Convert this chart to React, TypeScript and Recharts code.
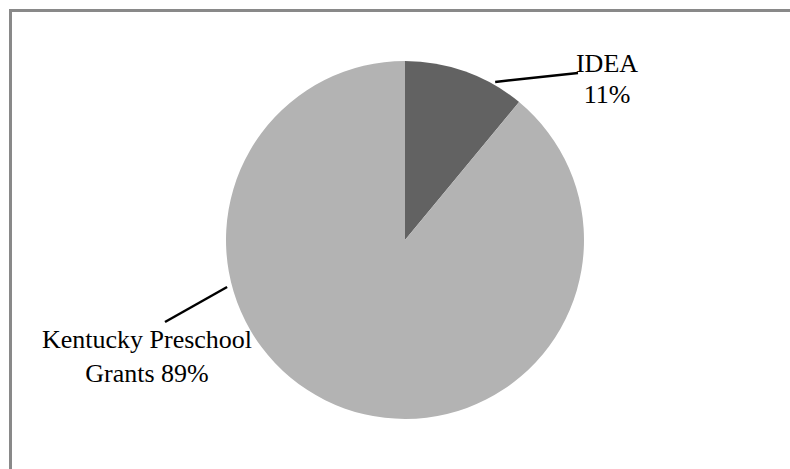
import React from "react";
import { PieChart, Pie, Cell } from "recharts";

const names = ["IDEA", "Kentucky Preschool Grants"];
const shares = [11, 89];
const labelLines = [["IDEA", "11%"], ["Kentucky Preschool", "Grants 89%"]];
const colors = ["#626262", "#b3b3b3"];

const data = names.map((name, i) => ({ name, value: shares[i] }));

// label layout relative to the pie centre (leader start angle in degrees clockwise from top)
const labelLayout = [
  { startDeg: 29.7, startR: 182, end: [173, -167], text: [202, -168], lineGap: 31 },
  { startDeg: 255.2, startR: 184, end: [-240, 82], text: [-258, 108], lineGap: 34 },
];

const FONT = "'Liberation Serif', 'Times New Roman', serif";

const renderLabel = (props: any) => {
  const { cx, cy, index } = props;
  const l = labelLayout[index];
  const a = (l.startDeg * Math.PI) / 180;
  const x0 = cx + l.startR * Math.sin(a);
  const y0 = cy - l.startR * Math.cos(a);
  return (
    <g key={`lbl-${index}`}>
      <line x1={x0} y1={y0} x2={cx + l.end[0]} y2={cy + l.end[1]} stroke="#000" strokeWidth={2.5} />
      {labelLines[index].map((t, j) => (
        <text
          key={j}
          x={cx + l.text[0]}
          y={cy + l.text[1] + j * l.lineGap}
          textAnchor="middle"
          fontFamily={FONT}
          fontSize={26}
          fill="#000"
        >
          {t}
        </text>
      ))}
    </g>
  );
};

export default function App() {
  return (
    <div style={{ position: "absolute", left: 0, top: 0, width: 790, height: 469, background: "#fff", overflow: "hidden" }}>
      <div
        style={{
          position: "absolute",
          left: 9,
          top: 9,
          width: 820,
          height: 500,
          border: "3px solid #898989",
          boxSizing: "border-box",
        }}
      />
      <div style={{ position: "absolute", left: 0, top: 0 }}>
        <PieChart width={790} height={469} margin={{ top: 0, right: 0, bottom: 0, left: 0 }}>
          <Pie
            data={data}
            dataKey="value"
            cx={405}
            cy={240}
            outerRadius={179}
            startAngle={90}
            endAngle={-270}
            stroke="none"
            label={renderLabel}
            labelLine={false}
            isAnimationActive={false}
          >
            {data.map((d, i) => (
              <Cell key={d.name} fill={colors[i]} />
            ))}
          </Pie>
        </PieChart>
      </div>
    </div>
  );
}
